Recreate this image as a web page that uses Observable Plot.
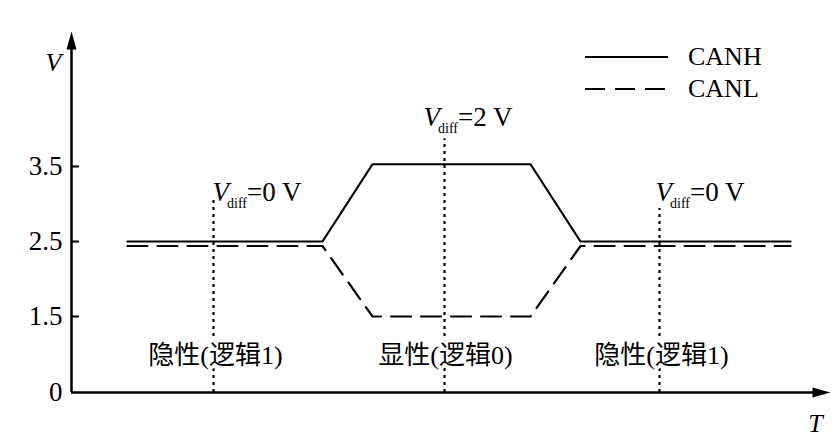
<!DOCTYPE html>
<html>
<head>
<meta charset="utf-8">
<script src="https://cdn.jsdelivr.net/npm/d3@7"></script>
<script src="https://cdn.jsdelivr.net/npm/@observablehq/plot@0.6"></script>
<style>
  html, body { margin: 0; padding: 0; background: #fff; }
  #wrap { position: relative; width: 839px; height: 438px; font-family: "Liberation Serif", "Noto Sans CJK SC", serif; }
  #legend { position: absolute; left: 585px; top: 41px; font-size: 26px; line-height: 32px; color: #000; }
  #legend div { display: flex; align-items: center; }
  #legend svg { margin-right: 20px; }
</style>
</head>
<body>
<div id="wrap"><div id="legend"></div></div>
<script>
// ---- data ----
const timePoints = [5.6, 25.1, 30.1, 45.9, 50.9, 71.9];
const canhValues = [2.5, 2.5, 3.53, 3.53, 2.5, 2.5];
const canlValues = [2.44, 2.44, 1.5, 1.5, 2.44, 2.44];
const seriesNames = ["CANH", "CANL"];

const yTicks = [0, 1.5, 2.5, 3.5];
const yTickLabels = ["0", "1.5", "2.5", "3.5"];

const dividerT = [14.2, 37.3, 58.8];
const dividerTop = [3.07, 3.87, 2.94];

const stateLabels = ["隐性(逻辑1)", "显性(逻辑0)", "隐性(逻辑1)"];
const stateLabelT = [14.4, 37.4, 59.0];
const stateLabelV = [0.73, 0.73, 0.73];

const vdiffValues = ["0 V", "2 V", "0 V"];
const vdiffT = [14.1, 35.2, 58.4];
const vdiffV = [3.15, 4.15, 3.15];

const axisNames = ["V", "T"];
const axisNameT = [-1.8, 74.4];
const axisNameV = [4.89, -0.61];

const xEnd = 76;
const yTop = 5.3;

// ---- build ----
// the drawing's voltage axis is broken: 0–1.5 is compressed into one step
const yBreak = (v) => v <= 1.5 ? v * 76 / (1.5 * 75) : v - 1.5 + 76 / 75;

const canh = timePoints.map((t, i) => ({t, v: canhValues[i]}));
const canl = timePoints.map((t, i) => ({t, v: canlValues[i]}));
const dividers = dividerT.map((t, i) => ({t, top: dividerTop[i]}));
const states = stateLabels.map((s, i) => ({t: stateLabelT[i], v: stateLabelV[i], s}));
const vdiffs = vdiffValues.map((s, i) => ({t: vdiffT[i], v: vdiffV[i], s: "V|diff|=" + s}));
const axisLab = axisNames.map((s, i) => ({t: axisNameT[i], v: axisNameV[i], s}));

const arrowHead = {
  draw(ctx) {
    ctx.moveTo(0, 0);
    ctx.lineTo(5, 18);
    ctx.lineTo(-5, 18);
    ctx.closePath();
  }
};

const font = '"Liberation Serif", "Noto Sans CJK SC", serif';

const plot = Plot.plot({
  width: 839,
  height: 438,
  marginLeft: 71, marginRight: 8, marginTop: 31, marginBottom: 46,
  style: {fontFamily: font, background: "white"},
  x: {domain: [0, xEnd], range: [71, 831], axis: null},
  y: {transform: yBreak, domain: [0, yBreak(yTop)], range: [392, 31], axis: null},
  marks: [
    Plot.ruleX(dividers, {x: "t", y1: 0, y2: "top", stroke: "black", strokeWidth: 2.2, strokeDasharray: "3,4"}),
    Plot.line(canl, {x: "t", y: "v", stroke: "black", strokeWidth: 2.2, strokeDasharray: "20,10"}),
    Plot.line(canh, {x: "t", y: "v", stroke: "black", strokeWidth: 2.2}),
    Plot.ruleX([0], {y1: 0, y2: yTop - 0.15, stroke: "black", strokeWidth: 2.5}),
    Plot.ruleY([0], {x1: 0, x2: xEnd - 1.2, stroke: "black", strokeWidth: 2.5}),
    Plot.dot([{t: 0, v: yTop}], {x: "t", y: "v", symbol: arrowHead, fill: "black", stroke: null}),
    Plot.dot([{t: xEnd - 0.1, v: 0}], {x: "t", y: "v", symbol: arrowHead, fill: "black", stroke: null, rotate: 90}),
    Plot.ruleY(yTicks.filter(d => d > 0), {y: d => d, x1: 0, x2: 0.8, stroke: "black", strokeWidth: 2}),
    Plot.text(yTicks, {x: 0, y: d => d, text: (d, i) => yTickLabels[i], textAnchor: "end", dx: -9, fontSize: 27, fill: "black"}),
    Plot.text(states, {x: "t", y: "v", text: "s", fontSize: 26, fill: "black", stroke: "white", strokeWidth: 6}),
    Plot.text(vdiffs, {x: "t", y: "v", text: "s", textAnchor: "start", fontSize: 27, fill: "black"}),
    Plot.text(axisLab, {x: "t", y: "v", text: "s", fontSize: 26, fontStyle: "italic", fill: "black"})
  ]
});

// subscripts for V_diff labels
d3.select(plot).selectAll("text").each(function() {
  const txt = this.textContent;
  if (!txt.includes("|")) return;
  const [a, b, c] = txt.split("|");
  const el = d3.select(this);
  el.text(null);
  el.append("tspan").attr("font-style", "italic").text(a);
  el.append("tspan").attr("font-size", 14).attr("dy", 7).attr("dx", -2).text(b);
  el.append("tspan").attr("dy", -7).text(c);
});

document.getElementById("wrap").prepend(plot);

// legend
const legend = d3.select("#legend");
seriesNames.forEach((name, i) => {
  const row = legend.append("div");
  const s = row.append("svg").attr("width", 83).attr("height", 10);
  s.append("line").attr("x1", 0).attr("x2", 83).attr("y1", 5).attr("y2", 5)
    .attr("stroke", "black").attr("stroke-width", 2)
    .attr("stroke-dasharray", i === 1 ? "20,10" : null);
  row.append("span").text(name);
});
</script>
</body>
</html>
